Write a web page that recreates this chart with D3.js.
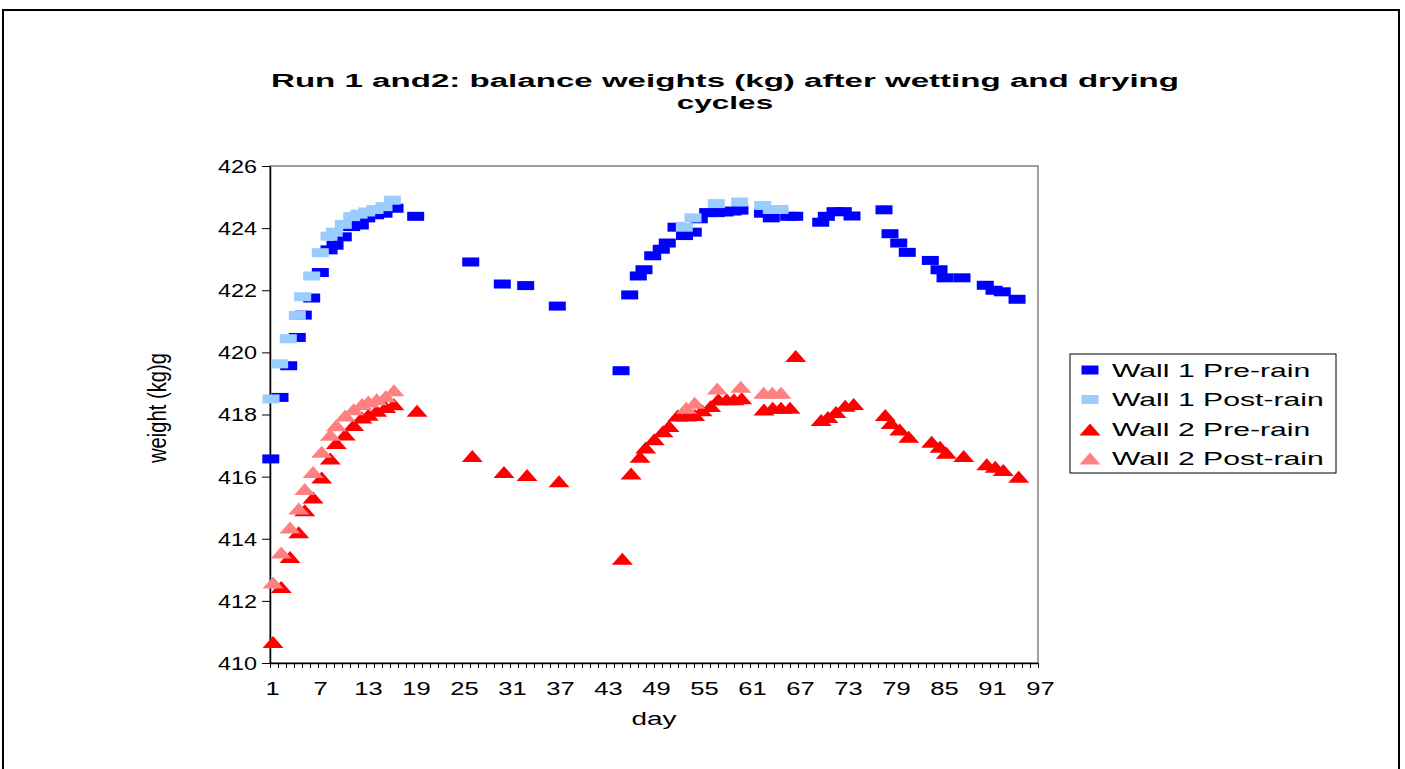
<!DOCTYPE html>
<html><head><meta charset="utf-8">
<script src="https://cdn.jsdelivr.net/npm/d3@7"></script>
<style>
html,body{margin:0;padding:0;background:#fff;}
svg{display:block;}
text{font-family:"Liberation Sans",Arial,sans-serif;fill:#000;}
</style>
</head><body>
<svg id="chart" width="1405" height="769"></svg>
<script>
// ---------------- data ----------------
const titleLines = ["Run 1 and2: balance weights (kg) after wetting and drying", "cycles"];
const xAxisTitle = "day";
const yAxisTitle = "weight (kg)g";
const xTickLabels = [1, 7, 13, 19, 25, 31, 37, 43, 49, 55, 61, 67, 73, 79, 85, 91, 97];
const yTickValues = [410, 412, 414, 416, 418, 420, 422, 424, 426];
const seriesNames = ["Wall 1 Pre-rain", "Wall 1 Post-rain", "Wall 2 Pre-rain", "Wall 2 Post-rain"];
const seriesColors = ["#0000FF", "#99CCFF", "#FF0000", "#FF8080"];
const seriesShapes = ["square", "square", "triangle", "triangle"];

const wall1PreDays = [1.1, 2.25, 3.34, 4.41, 5.16, 6.21, 7.29, 8.38, 9.13, 10.16, 11.21, 12.29, 13.09, 14.21, 15.25, 16.63, 19.21,
  26.09, 30.04, 32.96, 36.91, 44.88, 45.96, 47.04, 47.75, 48.84, 49.91, 50.66, 51.75, 52.81, 53.91, 54.66, 55.71, 56.79, 57.88,
  58.88, 59.75, 62.56, 63.66, 65.83, 66.59, 69.84, 70.54, 71.63, 72.66, 73.75, 77.75, 78.5, 79.59, 80.66, 83.54, 84.63, 85.38,
  87.5, 90.41, 91.5, 92.54, 94.38];
const wall1PreValues = [416.57, 418.55, 419.57, 420.48, 421.2, 421.75, 422.57, 423.3, 423.45, 423.72, 424.05, 424.1, 424.33, 424.43, 424.48, 424.64, 424.38,
  422.91, 422.2, 422.15, 421.49, 419.41, 421.85, 422.46, 422.66, 423.11, 423.32, 423.52, 424.03, 423.76, 423.87, 424.3, 424.5, 424.5, 424.52,
  424.55, 424.58, 424.48, 424.33, 424.38, 424.38, 424.19, 424.38, 424.53, 424.53, 424.39, 424.59, 423.82, 423.52, 423.22, 422.96, 422.66, 422.4,
  422.4, 422.16, 422.0, 421.95, 421.71];

const wall1PostDays = [1.13, 2.21, 3.29, 4.41, 5.09, 6.21, 7.29, 8.38, 9.04, 10.16, 11.21, 12.13, 13.09, 14.13, 15.25, 16.29,
  52.79, 53.88, 56.79, 59.71, 62.59, 63.66, 64.75];
const wall1PostValues = [418.5, 419.63, 420.44, 421.19, 421.79, 422.46, 423.21, 423.74, 423.87, 424.12, 424.37, 424.45, 424.52, 424.6, 424.69, 424.9,
  424.03, 424.33, 424.79, 424.84, 424.73, 424.6, 424.6];

const wall2PreDays = [1.38, 2.41, 3.5, 4.59, 5.34, 6.38, 7.46, 8.54, 9.29, 10.41, 11.46, 12.5, 13.29, 14.34, 15.46, 16.5, 19.38,
  26.29, 30.25, 33.13, 37.13, 45.04, 46.13, 47.25, 47.96, 49.04, 50.13, 50.88, 51.96, 53.04, 54.09, 55.0, 56.09, 57.04, 58.09,
  59.0, 59.96, 62.75, 63.84, 64.88, 66.0, 66.71, 69.9, 70.75, 71.75, 72.9, 73.96, 77.91, 78.63, 79.71, 80.84, 83.71, 84.75,
  85.54, 87.71, 90.59, 91.66, 92.66, 94.59];
const wall2PreValues = [410.68, 412.45, 413.41, 414.21, 414.92, 415.33, 415.97, 416.58, 417.08, 417.36, 417.66, 417.9, 417.99, 418.12, 418.24, 418.33, 418.12,
  416.66, 416.15, 416.05, 415.85, 413.36, 416.1, 416.64, 416.94, 417.2, 417.46, 417.63, 417.97, 417.97, 417.98, 418.14, 418.27, 418.49, 418.49,
  418.49, 418.52, 418.16, 418.22, 418.22, 418.22, 419.88, 417.82, 417.92, 418.08, 418.28, 418.34, 417.98, 417.73, 417.52, 417.28, 417.12, 416.96,
  416.77, 416.66, 416.4, 416.32, 416.21, 416.0];

const wall2PostDays = [1.38, 2.41, 3.5, 4.59, 5.34, 6.38, 7.46, 8.54, 9.29, 10.41, 11.46, 12.5, 13.29, 14.34, 15.46, 16.5,
  53.04, 54.09, 56.91, 59.84, 62.71, 63.79, 64.88];
const wall2PostValues = [412.59, 413.56, 414.36, 414.97, 415.6, 416.15, 416.8, 417.35, 417.65, 417.97, 418.17, 418.34, 418.42, 418.49, 418.59, 418.78,
  418.22, 418.38, 418.84, 418.89, 418.7, 418.7, 418.7];

const seriesDays = [wall1PreDays, wall1PostDays, wall2PreDays, wall2PostDays];
const seriesValues = [wall1PreValues, wall1PostValues, wall2PreValues, wall2PostValues];

// ---------------- layout ----------------
const svg = d3.select("#chart");
const plot = {left: 270, right: 1038, top: 166, bottom: 663};
const SX = 1.72;            // horizontal stretch of the reference's text
const SQ_W = 17, SQ_H = 9;  // square marker
const TR_W = 21, TR_H = 12; // triangle marker

const x = d3.scaleLinear().domain([1, 97]).range([plot.left, plot.right]);
const y = d3.scaleLinear().domain([410, 426]).range([plot.bottom, plot.top]);

function stretchText(g, str, px, py, anchor, size, weight, factor, fixedLen) {
  const t = g.append("text").attr("x", 0).attr("y", py)
    .attr("font-size", size).attr("font-weight", weight || "normal").text(str);
  const w = t.node().getComputedTextLength();
  const L = fixedLen || w * (factor || SX);
  const x0 = anchor === "middle" ? px - L / 2 : anchor === "end" ? px - L : px;
  t.attr("x", x0).attr("textLength", L).attr("lengthAdjust", "spacingAndGlyphs");
  return t;
}

// outer frame
svg.append("rect").attr("x", 3).attr("y", 10).attr("width", 1396).attr("height", 800)
  .attr("fill", "#fff").attr("stroke", "#000").attr("stroke-width", 2);

// title
stretchText(svg, titleLines[0], 725, 87, "middle", 18, "bold", null, 908);
stretchText(svg, titleLines[1], 725, 108.5, "middle", 18, "bold", 1.75);

// plot area border
svg.append("rect").attr("x", plot.left).attr("y", plot.top)
  .attr("width", plot.right - plot.left).attr("height", plot.bottom - plot.top)
  .attr("fill", "none").attr("stroke", "#808080").attr("stroke-width", 1.5);

// y axis
const yAxisG = svg.append("g").attr("transform", `translate(${plot.left},0)`)
  .call(d3.axisLeft(y).tickValues(yTickValues).tickSize(8).tickSizeOuter(0).tickFormat(d3.format("d")));
yAxisG.select(".domain").attr("stroke", "#000").attr("stroke-width", 1.5);
yAxisG.selectAll(".tick line").attr("stroke", "#000").attr("stroke-width", 1);
yAxisG.selectAll(".tick text").each(function () {
  const t = d3.select(this);
  t.attr("font-size", 18).attr("font-family", null).attr("text-anchor", "start").attr("dy", "0.36em");
  const w = this.getComputedTextLength();
  const L = w * 1.3;
  t.attr("x", -13 - L).attr("textLength", L).attr("lengthAdjust", "spacingAndGlyphs");
});

// x axis
const xAxisG = svg.append("g").attr("transform", `translate(0,${plot.bottom})`)
  .call(d3.axisBottom(x).tickValues(d3.range(1, 98)).tickSize(5).tickSizeOuter(0)
    .tickFormat(d => xTickLabels.includes(d) ? String(d) : ""));
xAxisG.select(".domain").attr("stroke", "#000").attr("stroke-width", 1.5);
xAxisG.selectAll(".tick line").attr("stroke", "#000").attr("stroke-width", 1);
xAxisG.selectAll(".tick text").each(function () {
  const t = d3.select(this);
  if (!t.text()) return;
  t.attr("font-size", 18).attr("font-family", null).attr("text-anchor", "start").attr("dy", null).attr("y", 32);
  const w = this.getComputedTextLength();
  const L = w * 1.42;
  t.attr("x", 2 - L / 2).attr("textLength", L).attr("lengthAdjust", "spacingAndGlyphs");
});

// axis titles
stretchText(svg, xAxisTitle, 654, 725, "middle", 18, "normal", 1.55);
svg.append("text")
  .attr("transform", `translate(166,408) scale(1.4,1) rotate(-90)`)
  .attr("text-anchor", "middle").attr("font-size", 18)
  .attr("textLength", 110).attr("lengthAdjust", "spacingAndGlyphs")
  .text(yAxisTitle);

// markers
function drawMarker(g, shape, color, cx, cy) {
  if (shape === "square") {
    g.append("rect").attr("x", cx - SQ_W / 2).attr("y", cy - SQ_H / 2)
      .attr("width", SQ_W).attr("height", SQ_H).attr("fill", color);
  } else {
    g.append("path")
      .attr("d", `M${cx},${cy - TR_H / 2}L${cx + TR_W / 2},${cy + TR_H / 2}L${cx - TR_W / 2},${cy + TR_H / 2}Z`)
      .attr("fill", color);
  }
}

const marks = svg.append("g");
seriesNames.forEach((name, i) => {
  const g = marks.append("g").attr("class", "series");
  seriesDays[i].forEach((d, j) => {
    drawMarker(g, seriesShapes[i], seriesColors[i], x(d), y(seriesValues[i][j]));
  });
});

// legend
const lg = svg.append("g");
lg.append("rect").attr("x", 1070).attr("y", 354).attr("width", 266).attr("height", 119)
  .attr("fill", "#fff").attr("stroke", "#000").attr("stroke-width", 1);
const legendY = [370, 399.5, 429.5, 458.5];
seriesNames.forEach((name, i) => {
  drawMarker(lg, seriesShapes[i], seriesColors[i], 1090, legendY[i]);
  stretchText(lg, name, 1112, legendY[i] + 6.7, "start", 18.5, "normal", 1.63);
});
</script>
</body></html>
